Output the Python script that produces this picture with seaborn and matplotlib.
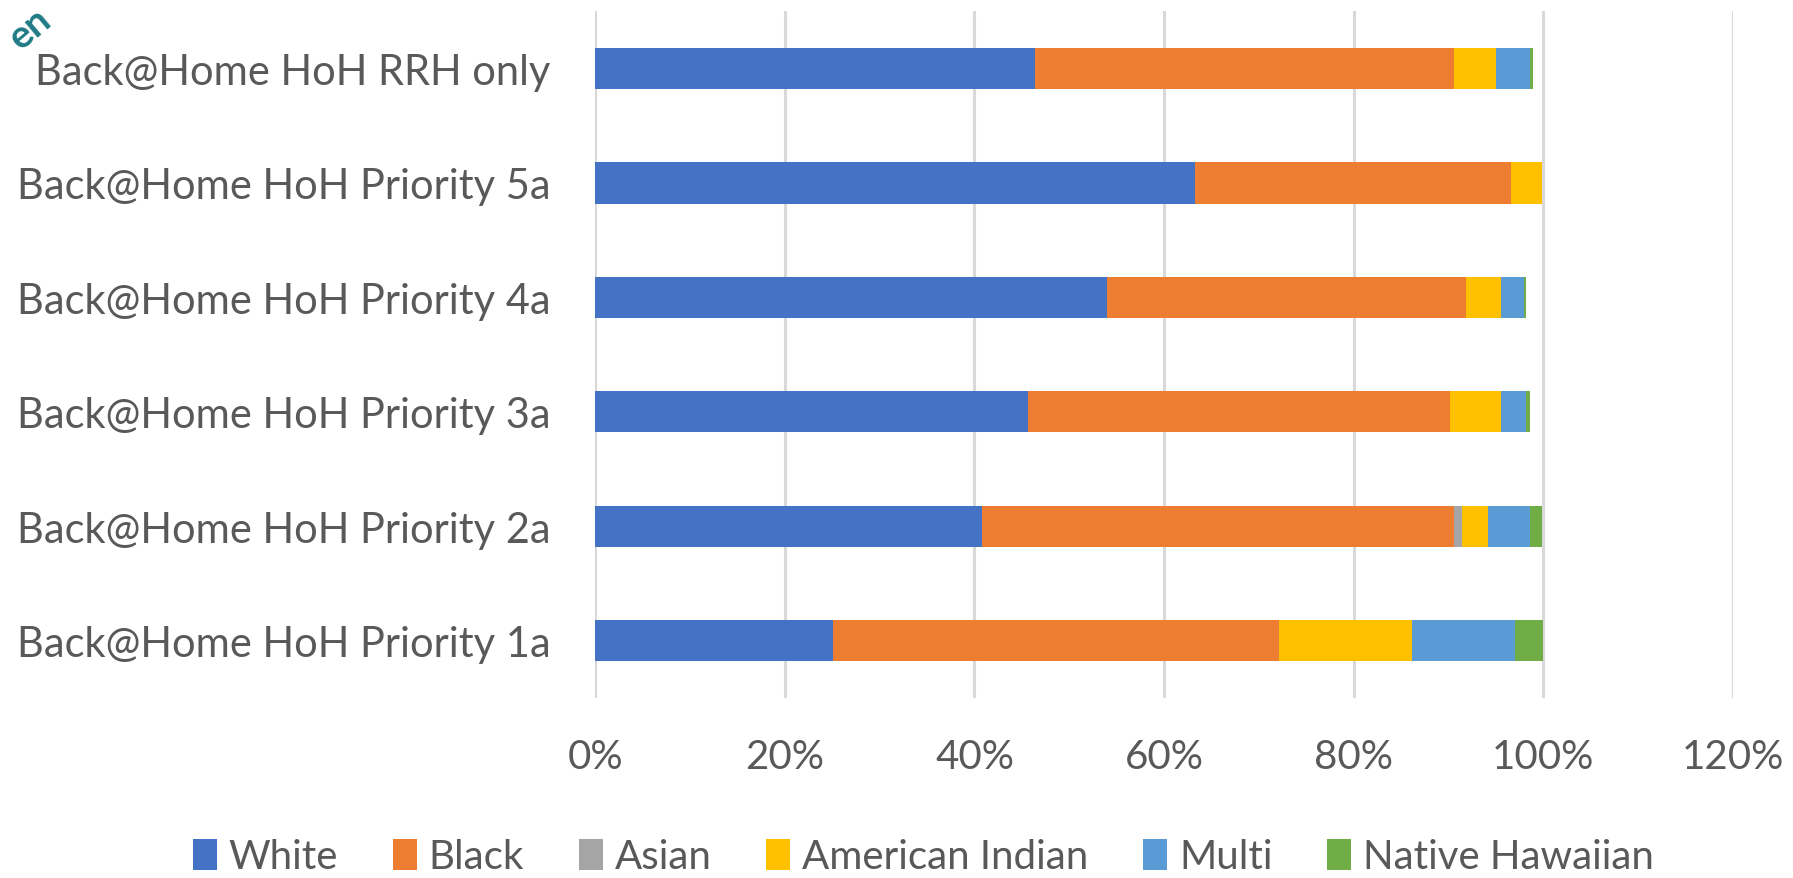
import numpy as np
import pandas as pd
import matplotlib
matplotlib.use('Agg')
import matplotlib.pyplot as plt
import seaborn as sns
from matplotlib.ticker import PercentFormatter
from matplotlib.patches import Patch

groups = ['Back@Home HoH RRH only', 'Back@Home HoH Priority 5a', 'Back@Home HoH Priority 4a',
          'Back@Home HoH Priority 3a', 'Back@Home HoH Priority 2a', 'Back@Home HoH Priority 1a']
races = ['White', 'Black', 'Asian', 'American Indian', 'Multi', 'Native Hawaiian']
white = [46.4, 63.3, 54.0, 45.6, 40.8, 25.1]
black = [44.2, 33.3, 37.8, 44.6, 49.8, 47.0]
asian = [0.0, 0.0, 0.0, 0.0, 0.8, 0.0]
american_indian = [4.4, 3.3, 3.7, 5.3, 2.8, 14.1]
multi = [3.6, 0.0, 2.5, 2.7, 4.4, 10.8]
native_hawaiian = [0.3, 0.0, 0.2, 0.4, 1.3, 3.0]
colors = ['#4472C4', '#ED7D31', '#A5A5A5', '#FFC000', '#5B9BD5', '#70AD47']

df = pd.DataFrame({'White': white, 'Black': black, 'Asian': asian,
                   'American Indian': american_indian, 'Multi': multi,
                   'Native Hawaiian': native_hawaiian}, index=groups) / 100
cum = df.cumsum(axis=1)

sns.set_style('white')
plt.rcParams['font.family'] = ['Lato', 'DejaVu Sans']
txt = '#595959'

fig = plt.figure(figsize=(17.93, 8.79), dpi=100)
ax = fig.add_axes([0.332, 0.205, 0.6345, 0.781])

# draw cumulative totals from the last race back to the first so each segment shows
for race, col in reversed(list(zip(races, colors))):
    sns.barplot(x=cum[race].values, y=groups, color=col, width=0.36,
                orient='h', ax=ax, saturation=1, linewidth=0)

ax.set_xlim(0, 1.2)
ax.set_xticks(np.arange(0, 1.21, 0.2))
ax.xaxis.set_major_formatter(PercentFormatter(1.0, decimals=0))
ax.grid(axis='x', color='#d9d9d9', linewidth=2.2)
ax.set_axisbelow(True)
ax.set_xlabel('')
ax.set_ylabel('')
sns.despine(ax=ax, left=True, bottom=True)
ax.tick_params(axis='x', length=0, pad=29, labelsize=29, labelcolor=txt)
ax.tick_params(axis='y', length=0, pad=32, labelsize=30, labelcolor=txt)

handles = [Patch(facecolor=c, edgecolor='none', label=r) for r, c in zip(races, colors)]
fig.legend(handles=handles, loc='center', bbox_to_anchor=(0.515, 0.024), ncol=6,
           frameon=False, fontsize=29, labelcolor=txt, handlelength=0.6,
           handleheight=0.8, handletextpad=0.3, columnspacing=1.35)

fig.text(0.001, 0.998, 'en', rotation=40, color='#1F7A85', fontsize=28,
         fontweight='bold', ha='left', va='top')

fig.savefig('out.png', dpi=100)
